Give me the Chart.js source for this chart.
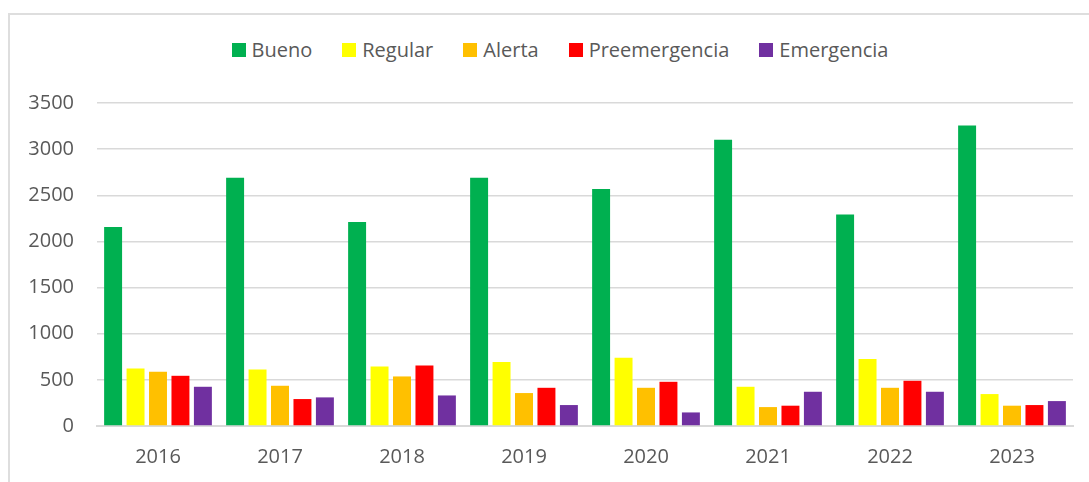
<!DOCTYPE html>
<html>
<head>
<meta charset="utf-8">
<script src="https://cdn.jsdelivr.net/npm/chart.js"></script>
<style>
  html, body { margin: 0; padding: 0; background: #fff; }
  body { width: 1089px; height: 482px; position: relative; overflow: hidden; font-family: "Open Sans", sans-serif; }
  .frame { position: absolute; left: 8px; top: 13px; width: 1200px; height: 600px; border-left: 2px solid #dedede; border-top: 2px solid #dedede; }
  .legend { position: absolute; left: 0; width: 1120px; top: 36px; display: flex; justify-content: center; gap: 30px; font-size: 20px; color: #595959; line-height: 28px; }
  .legend span.item { display: flex; align-items: center; }
  .legend span.box { display: inline-block; width: 14px; height: 14px; margin-right: 6px; }
  #wrap { position: absolute; left: 0; top: 0; width: 1089px; height: 482px; }
</style>
</head>
<body>
<div class="frame"></div>
<div class="legend" id="legend"></div>
<div id="wrap"><canvas id="chart"></canvas></div>
<script>
const years = ['2016', '2017', '2018', '2019', '2020', '2021', '2022', '2023']
const seriesNames = ['Bueno', 'Regular', 'Alerta', 'Preemergencia', 'Emergencia']
const colors = ['#00B050', '#FFFF00', '#FFC000', '#FF0000', '#7030A0']

const bueno = [2156, 2690, 2210, 2690, 2568, 3102, 2293, 3257]
const regular = [623, 613, 645, 693, 739, 425, 725, 346]
const alerta = [588, 436, 537, 357, 414, 205, 414, 220]
const preemergencia = [544, 292, 656, 414, 479, 220, 490, 227]
const emergencia = [425, 310, 331, 227, 147, 371, 371, 270]

const yTicks = [0, 500, 1000, 1500, 2000, 2500, 3000, 3500]

const seriesValues = [bueno, regular, alerta, preemergencia, emergencia]

// legend in html so it can sit where the original one is
const legendEl = document.getElementById('legend')
seriesNames.forEach((name, i) => {
  const item = document.createElement('span')
  item.className = 'item'
  item.innerHTML = `<span class="box" style="background:${colors[i]}"></span>${name}`
  legendEl.appendChild(item)
})

const ctx = document.getElementById('chart').getContext('2d')
new Chart(ctx, {
  type: 'bar',
  data: {
    labels: years,
    datasets: seriesNames.map((name, i) => ({
      label: name,
      data: seriesValues[i],
      backgroundColor: colors[i],
      borderWidth: 0,
      categoryPercentage: 0.92,
      barPercentage: 0.8
    }))
  },
  options: {
    responsive: true,
    maintainAspectRatio: false,
    animation: false,
    layout: {
      padding: { top: 103, right: 16, bottom: 0, left: 24 }
    },
    plugins: {
      legend: { display: false },
      tooltip: { enabled: false }
    },
    scales: {
      x: {
        grid: { display: false },
        border: { display: true, color: '#d9d9d9', width: 2 },
        afterFit: (axis) => { axis.height = 56 },
        ticks: {
          color: '#595959',
          padding: 11,
          font: { family: 'Open Sans', size: 20 }
        }
      },
      y: {
        min: yTicks[0],
        max: yTicks[yTicks.length - 1],
        afterBuildTicks: (axis) => { axis.ticks = yTicks.map(v => ({ value: v })) },
        afterFit: (axis) => { axis.width = 73 },
        grid: { color: '#d9d9d9', lineWidth: 1.5, drawTicks: false },
        border: { display: false },
        ticks: {
          color: '#595959',
          padding: 23,
          font: { family: 'Open Sans', size: 20 },
          callback: (value) => String(value)
        }
      }
    }
  }
})
</script>
</body>
</html>
